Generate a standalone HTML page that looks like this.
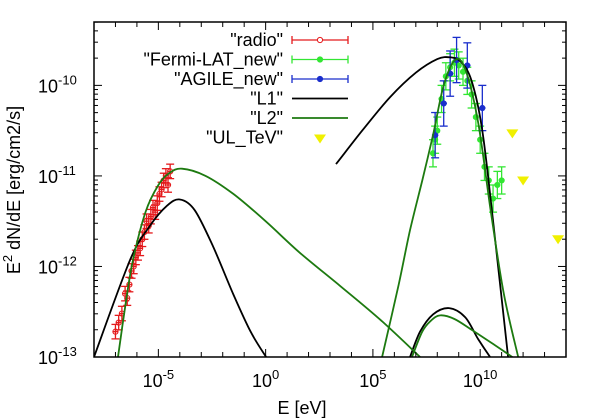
<!DOCTYPE html>
<html><head><meta charset="utf-8"><style>
body{margin:0;background:#fff;}
svg{display:block;font-family:"Liberation Sans",sans-serif;}
</style></head><body>
<svg id="c" width="600" height="420" viewBox="0 0 600 420"></svg>
<script>
// data (log10 E [eV], log10 E^2dN/dE)
const xTicks=[-5,0,5,10];
const yTicks=[-13,-12,-11,-10];
const l1Sync=[[-8,-13],[-6.32,-11.93],[-5.39,-11.55],[-4.6,-11.33],[-3.99,-11.26],[-3.3,-11.38],[-2.45,-11.78],[-1.52,-12.3],[-0.7,-12.72],[0.02,-13]];
const l1IC=[[3.28,-10.87],[4.5,-10.5],[5.8,-10.13],[7,-9.86],[8,-9.71],[8.6,-9.69],[9.1,-9.74],[9.6,-9.95],[10.1,-10.5],[10.6,-11.5],[11.3,-13]];
const l1Bump=[[6.73,-13],[7.2,-12.72],[7.8,-12.53],[8.55,-12.46],[9.3,-12.56],[9.9,-12.8],[10.46,-13]];
const l2Sync=[[-6.88,-13],[-6.55,-12.45],[-6.2,-11.95],[-5.6,-11.4],[-5,-11.1],[-4.5,-10.97],[-3.9,-10.92],[-2.8,-11.0],[-1.5,-11.2],[0,-11.5],[1.6,-11.85],[3.5,-12.22],[5.4,-12.6],[7.2,-13]];
const l2IC=[[5.43,-13],[6.2,-12.2],[6.73,-11.6],[7.3,-11.05],[7.8,-10.55],[8.3,-10.0],[8.83,-9.72],[9.3,-9.82],[9.9,-10.4],[10.5,-11.4],[11.1,-12.3],[11.77,-13]];
const l2Bump=[[6.82,-13],[7.3,-12.72],[7.7,-12.6],[8.13,-12.54],[8.8,-12.58],[9.6,-12.7],[10.5,-12.84],[11.5,-13]];
const radioE=[-7.0,-6.85,-6.7,-6.55,-6.45,-6.35,-6.25,-6.15,-6.05,-5.95,-5.85,-5.75,-5.65,-5.55,-5.45,-5.35,-5.25,-5.15,-5.05,-4.95,-4.85,-4.75,-4.65,-4.55,-4.45];
const radioF=[-12.72,-12.62,-12.52,-12.3,-12.35,-12.2,-12.05,-12.0,-11.9,-11.85,-11.8,-11.7,-11.62,-11.5,-11.55,-11.45,-11.35,-11.4,-11.3,-11.2,-11.15,-11.05,-11.0,-11.1,-10.95];
const fermiE=[7.8,7.9,8.0,8.2,8.4,8.6,8.8,9.0,9.2,9.4,9.6,9.8,10.0,10.2,10.4,10.6,10.8,11.0];
const fermiF=[-10.75,-10.6,-10.5,-10.15,-9.9,-9.8,-9.75,-9.78,-9.85,-9.95,-10.1,-10.35,-10.6,-10.9,-11.05,-11.25,-11.1,-11.05];
const agileE=[7.9,8.3,8.6,8.9,9.4,10.1];
const agileF=[-10.55,-10.2,-9.87,-9.72,-9.78,-10.25];
const ulE=[11.5,12.0,13.63];
const ulF=[-10.53,-11.05,-11.7];
const NS="http://www.w3.org/2000/svg";
const svg=document.getElementById('c');
const L=94,R=566,T=22,B=357,xmin=-8,xmax=14,ymin=-13,ymax=-9.3;
function X(l){return L+(l-xmin)/(xmax-xmin)*(R-L);}
function Y(v){return B-(v-ymin)/(ymax-ymin)*(B-T);}
function el(t,a,p){const e=document.createElementNS(NS,t);for(const k in a)e.setAttribute(k,a[k]);(p||svg).appendChild(e);return e;}
const clip=el('clipPath',{id:'cp'});el('rect',{x:L,y:T,width:R-L,height:B-T},clip);
const plot=el('g',{'clip-path':'url(#cp)'});


for(let d=xmin;d<=xmax;d++){
  const big=xTicks.includes(d);
  el('line',{x1:X(d),x2:X(d),y1:B,y2:B-(big?8:5),stroke:'#000'});
  el('line',{x1:X(d),x2:X(d),y1:T,y2:T+(big?8:5),stroke:'#000'});
}
for(let d=-13;d<=-9;d++){
  for(let m=1;m<10;m++){
    const v=d+Math.log10(m); if(v>ymax)break;
    const len=m==1?8:4;
    el('line',{x1:L,x2:L+len,y1:Y(v),y2:Y(v),stroke:'#000'});
    el('line',{x1:R,x2:R-len,y1:Y(v),y2:Y(v),stroke:'#000'});
  }
}
xTicks.forEach(d=>{
  const t=el('text',{x:X(d),y:387,'font-size':18,'text-anchor':'middle'});
  
  
  t.innerHTML='10<tspan dy="-8" font-size="13">'+d+'</tspan>';
});
yTicks.forEach(d=>{
  const t=el('text',{x:38,y:Y(d)+7,'font-size':18});
  
  
  t.innerHTML='10<tspan dy="-8" font-size="13">'+d+'</tspan>';
});
const xt=el('text',{x:302,y:414,'font-size':18,'text-anchor':'middle'});xt.textContent='E [eV]';


const yt=el('text',{transform:'translate(20,190) rotate(-90)','font-size':18,'text-anchor':'middle'});
yt.innerHTML='E<tspan dy="-8" font-size="13">2</tspan><tspan dy="8"> dN/dE [erg/cm2/s]</tspan>';


function curve(pts,col,name){
  const P=pts.map(p=>[X(p[0]),Y(p[1])]);
  let d='M'+P[0][0].toFixed(1)+','+P[0][1].toFixed(1);
  for(let i=0;i<P.length-1;i++){
    const p0=P[Math.max(0,i-1)],p1=P[i],p2=P[i+1],p3=P[Math.min(P.length-1,i+2)];
    const c1=[p1[0]+(p2[0]-p0[0])/6,p1[1]+(p2[1]-p0[1])/6],c2=[p2[0]-(p3[0]-p1[0])/6,p2[1]-(p3[1]-p1[1])/6];
    d+='C'+c1.map(v=>v.toFixed(1))+' '+c2.map(v=>v.toFixed(1))+' '+p2.map(v=>v.toFixed(1));
  }
  const e=el('path',{d:d,fill:'none',stroke:col,'stroke-width':1.8,'stroke-linejoin':'round'},plot);
  
  
}
function pts(E,F,col,open,name,ex,ey){
  E.forEach((e,i)=>{
    const g=el('g',{},plot);
    
    
    const x=X(e),y=Y(F[i]),x1=X(e-ex),x2=X(e+ex),y1=Y(F[i]-ey),y2=Y(F[i]+ey);
    el('line',{x1:x,x2:x,y1:y1,y2:y2,stroke:col,'stroke-width':1.3},g);
    el('line',{x1:x-4,x2:x+4,y1:y1,y2:y1,stroke:col,'stroke-width':1.3},g);
    el('line',{x1:x-4,x2:x+4,y1:y2,y2:y2,stroke:col,'stroke-width':1.3},g);
    el('line',{x1:x1,x2:x2,y1:y,y2:y,stroke:col,'stroke-width':1.3},g);
    el('circle',{cx:x,cy:y,r:2.6,fill:open?'none':col,stroke:col},g);
  });
}
pts(radioE,radioF,'#e41a1c',true,'radio-point',0.12,0.08);
pts(fermiE,fermiF,'#33e633',false,'fermi-point',0.1,0.15);
pts(agileE,agileF,'#1a2ecc',false,'agile-point',0.15,0.25);
curve(l1Sync,'#000','l1-sync-curve');curve(l1IC,'#000','l1-ic-curve');curve(l1Bump,'#000','l1-bump-curve');
curve(l2Sync,'#1d7a10','l2-sync-curve');curve(l2IC,'#1d7a10','l2-ic-curve');curve(l2Bump,'#1d7a10','l2-bump-curve');
ulE.forEach((e,i)=>{
  const x=X(e),y=Y(ulF[i]);
  const t=el('path',{d:`M${x-6},${y-4}L${x+6},${y-4}L${x},${y+5}Z`,fill:'#f0f000'},plot);
  
  
});
el('rect',{x:L,y:T,width:R-L,height:B-T,fill:'none',stroke:'#000','stroke-width':1.5});
const leg=[['"radio"','#e41a1c','err',true],['"Fermi-LAT_new"','#33e633','err',false],['"AGILE_new"','#1a2ecc','err',false],['"L1"','#000','line'],['"L2"','#1d7a10','line'],['"UL_TeV"','#f0f000','tri']];
leg.forEach((r,i)=>{
  const y=40+i*19.5;
  const g=el('g',{});
  
  
  const t=el('text',{x:283,y:y+6,'font-size':18,'text-anchor':'end'},g);t.textContent=r[0];
  if(r[2]=='err'){
    el('line',{x1:292,x2:348,y1:y,y2:y,stroke:r[1],'stroke-width':1.3},g);
    el('line',{x1:292,x2:292,y1:y-4,y2:y+4,stroke:r[1],'stroke-width':1.3},g);
    el('line',{x1:348,x2:348,y1:y-4,y2:y+4,stroke:r[1],'stroke-width':1.3},g);
    el('circle',{cx:320,cy:y,r:2.6,fill:r[3]?'#fff':r[1],stroke:r[1]},g);
  }else if(r[2]=='line'){
    el('line',{x1:292,x2:348,y1:y,y2:y,stroke:r[1],'stroke-width':1.8},g);
  }else{
    el('path',{d:`M${314},${y-3}L${326},${y-3}L${320},${y+6}Z`,fill:r[1]},g);
  }
});
</script>
</body></html>
